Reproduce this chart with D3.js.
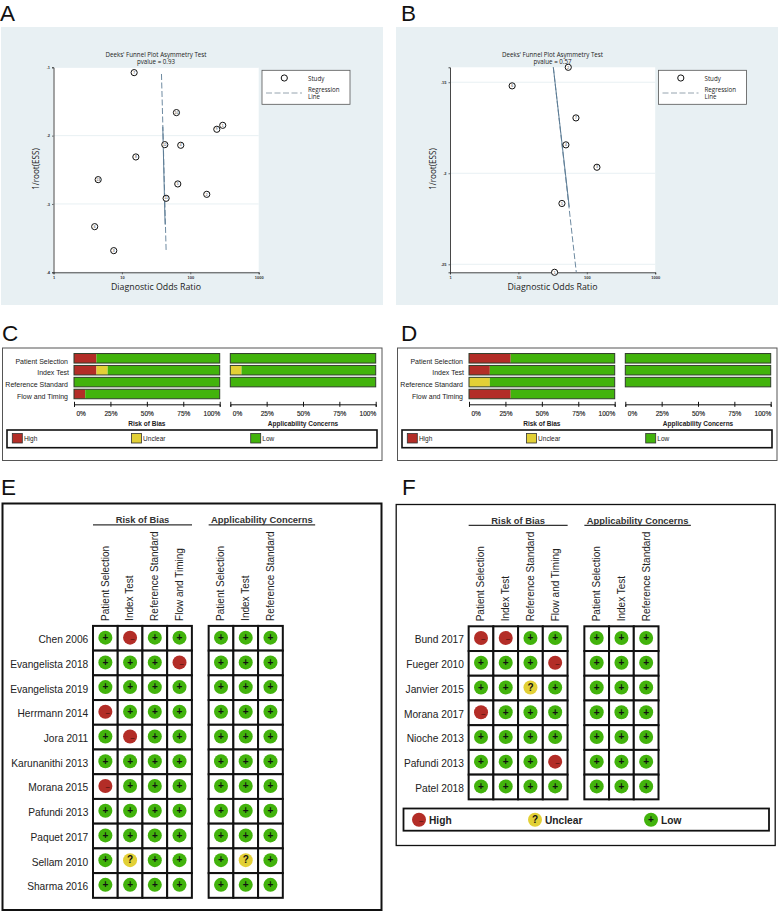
<!DOCTYPE html>
<html>
<head>
<meta charset="utf-8">
<script src="https://cdn.jsdelivr.net/npm/d3@7"></script>
<style>
html,body{margin:0;padding:0;background:#fff;}
svg{display:block;}
</style>
</head>
<body>
<svg id="main" width="778" height="912"></svg>
<script>
//funnel A
var funnelAOR=[15.1,62.7,298,244,42.4,72.5,16,4.5,65.6,174,44.3,4.0,7.6];
var funnelAESS=[.1078,.1663,.1849,.1907,.2132,.2141,.2312,.2644,.2707,.2859,.2917,.3332,.3683];
var funnelAIds=[7,10,1,9,12,4,8,13,5,2,11,6,3];
var funnelALine=[[37.9,.1098],[44.3,.3683]];
var funnelASolid=[[39.6,.187],[42.8,.33]];
var funnelAYTicks=[.1,.2,.3,.4];
var funnelAP="0.93";

//funnel B
var funnelBOR=[53.6,8.1,69.4,49.5,140.6,43.3,33.8];
var funnelBESS=[.1418,.152,.1696,.1844,.1967,.2166,.2544];
var funnelBIds=[2,6,7,4,3,5,1];
var funnelBLine=[[32.4,.1418],[70.2,.2544]];
var funnelBSolid=[[32.4,.1418],[55.4,.2185]];
var funnelBYTicks=[.15,.2,.25];
var funnelBP="0.57";

var orTicks=[1,10,100,1000];

//bars, percent of studies
var domains=["Patient Selection","Index Test","Reference Standard","Flow and Timing"];
var riskC=[[15.4,0,84.6],[15.4,7.7,76.9],[0,0,100],[7.7,0,92.3]];
var applyC=[[0,0,100],[0,7.7,92.3],[0,0,100]];
var riskD=[[28.6,0,71.4],[14.3,0,85.7],[0,14.3,85.7],[28.6,0,71.4]];
var applyD=[[0,0,100],[0,0,100],[0,0,100]];
var pctTicks=[0,25,50,75,100];
var levels=["High","Unclear","Low"];

//traffic light tables
var riskCols=["Patient Selection","Index Test","Reference Standard","Flow and Timing"];
var applyCols=["Patient Selection","Index Test","Reference Standard"];
var studiesE=["Chen 2006","Evangelista 2018","Evangelista 2019","Herrmann 2014","Jora 2011","Karunanithi 2013","Morana 2015","Pafundi 2013","Paquet 2017","Sellam 2010","Sharma 2016"];
var cellsE=["+-++|+++","+++-|+++","++++|+++","-+++|+++","+-++|+++","++++|+++","-+++|+++","++++|+++","++++|+++","+?++|+?+","++++|+++"];
var studiesF=["Bund 2017","Fueger 2010","Janvier 2015","Morana 2017","Nioche 2013","Pafundi 2013","Patel 2018"];
var cellsF=["--++|+++","+++-|+++","++?+|+++","-+++|+++","++++|+++","+++-|+++","++++|+++"];

const RED="#b32d27",YELLOW="#e2d036",GREEN="#42b30c";
const levelColor={"High":RED,"Unclear":YELLOW,"Low":GREEN};
const symColor={"+":GREEN,"-":RED,"?":YELLOW};
const ARIAL="'Liberation Sans',Arial,sans-serif";
const SOFT="'Open Sans',sans-serif";

var svg=d3.select("#main");

function letter(t,x,y){
    svg.append("text").text(t)
        .attr("x",x).attr("y",y)
        .attr("font-family",ARIAL)
        .attr("font-size",22.5)
        .attr("fill","#111");
}

function drawFunnel(dx,bgX,bgW,or,ess,ids,line,solid,yTicks,yDomain,pvalue){
    let g=svg.append("g").attr("transform","translate("+dx+",0)");
    svg.insert("rect","g").attr("x",bgX).attr("y",27).attr("width",bgW).attr("height",278).attr("fill","#e8f0f3");

    let x=d3.scaleLog().domain([1,1000]).range([53.5,258.7]);
    let y=d3.scaleLinear().domain(yDomain).range([67.3,272.3]);

    g.append("rect").attr("x",53.5).attr("y",67.3).attr("width",205.2).attr("height",205).attr("fill","#fff");

    //横向网格线
    g.append("g").selectAll("line").data(yTicks).enter().append("line")
        .attr("x1",53.5).attr("x2",258.7)
        .attr("y1",function(d){return y(d)})
        .attr("y2",function(d){return y(d)})
        .attr("stroke","#e8f0f3").attr("stroke-width",1);

    let axB=g.append("g").attr("transform","translate(0,272.3)")
        .call(d3.axisBottom(x).tickValues(orTicks).tickFormat(d3.format("d")).tickSizeOuter(0).tickSize(2).tickPadding(1.5));
    let axL=g.append("g").attr("transform","translate(53.5,0)")
        .call(d3.axisLeft(y).tickValues(yTicks).tickFormat(function(d){return String(d).replace(/^0/,"")}).tickSizeOuter(0).tickSize(1.5).tickPadding(2));
    [axB,axL].forEach(function(a){
        a.selectAll("text").attr("font-size",4).attr("font-family",ARIAL).attr("font-weight","bold").attr("fill","#333");
        a.selectAll("line").attr("stroke","#333").attr("stroke-width",.7);
        a.select(".domain").attr("stroke","#333").attr("stroke-width",.9);
    });

    let path=d3.line().x(function(d){return x(d[0])}).y(function(d){return y(d[1])});
    g.append("path").attr("d",path(line)).attr("fill","none")
        .attr("stroke","#5d7d96").attr("stroke-width",.9).attr("stroke-dasharray","6 2.5");
    g.append("path").attr("d",path(solid)).attr("fill","none")
        .attr("stroke","#5d7d96").attr("stroke-width",1);

    let pts=g.append("g").selectAll("g").data(or).enter().append("g")
        .attr("transform",function(d,i){return "translate("+x(d)+","+y(ess[i])+")"});
    pts.append("circle").attr("r",3.1).attr("fill","#fff").attr("stroke","#111").attr("stroke-width",1);
    pts.append("text").text(function(d,i){return ids[i]})
        .attr("text-anchor","middle").attr("y",1.2)
        .attr("font-size",3.4).attr("font-family",ARIAL).attr("fill","#333");

    let title=g.append("g").attr("font-family",SOFT).attr("font-size",6.2).attr("fill","#222").attr("text-anchor","middle");
    title.append("text").text("Deeks' Funnel Plot Asymmetry Test").attr("x",156).attr("y",56.6);
    title.append("text").text("pvalue =  "+pvalue).attr("x",156).attr("y",63.8);

    g.append("text").text("Diagnostic Odds Ratio")
        .attr("x",156).attr("y",290)
        .attr("text-anchor","middle")
        .attr("font-family",SOFT).attr("font-size",8.8).attr("fill","#222");
    g.append("text").text("1/root(ESS)")
        .attr("transform","translate(39,169) rotate(-90)")
        .attr("text-anchor","middle")
        .attr("font-family",SOFT).attr("font-size",8.1).attr("fill","#222");

    //图例
    let lg=g.append("g").attr("font-family",SOFT).attr("font-size",6.2).attr("fill","#222");
    lg.append("rect").attr("x",262).attr("y",70.3).attr("width",88).attr("height",34).attr("fill","#fff").attr("stroke","#555").attr("stroke-width",.8);
    lg.append("circle").attr("cx",284.3).attr("cy",78).attr("r",3.1).attr("fill","#fff").attr("stroke","#111").attr("stroke-width",1);
    lg.append("text").text("Study").attr("x",308).attr("y",80.5);
    lg.append("line").attr("x1",266).attr("x2",302).attr("y1",93).attr("y2",93).attr("stroke","#8a9aa6").attr("stroke-width",.9).attr("stroke-dasharray","6 2.5");
    lg.append("text").text("Regression").attr("x",308).attr("y",91.7);
    lg.append("text").text("Line").attr("x",308).attr("y",99);
}

function drawBars(dx,risk,apply){
    let g=svg.append("g").attr("transform","translate("+dx+",0)").attr("font-family",ARIAL).attr("fill","#222");
    g.append("rect").attr("x",2.5).attr("y",348).attr("width",379.5).attr("height",112.5).attr("fill","#fff").attr("stroke","#555").attr("stroke-width",1);

    let y=d3.scaleBand().domain(domains).range([352.35,399.95]).paddingInner(.2).paddingOuter(.1);
    let stack=d3.stack().keys([0,1,2]);

    function block(rows,x0,x1,title){
        let x=d3.scaleLinear().domain([0,100]).range([x0,x1]);
        let series=stack(rows);
        let bars=g.append("g");
        series.forEach(function(s,k){
            bars.selectAll("rect.s"+k).data(s).enter().append("rect")
                .attr("class","s"+k)
                .attr("x",function(d){return x(d[0])})
                .attr("width",function(d){return x(d[1])-x(d[0])})
                .attr("y",function(d,i){return y(domains[i])})
                .attr("height",y.bandwidth())
                .attr("fill",levelColor[levels[k]]);
        });
        bars.selectAll("rect.out").data(rows).enter().append("rect")
            .attr("class","out")
            .attr("x",x0).attr("width",x1-x0)
            .attr("y",function(d,i){return y(domains[i])})
            .attr("height",y.bandwidth())
            .attr("fill","none").attr("stroke","#2f3d2a").attr("stroke-width",1);

        let ax=g.append("g").attr("transform","translate(0,404.3)")
            .call(d3.axisBottom(x).tickValues(pctTicks).tickFormat(function(d){return d+"%"}).tickSizeOuter(0).tickSize(2.5).tickPadding(4.5));
        ax.select(".domain").attr("stroke","#111").attr("stroke-width",1);
        ax.selectAll("line").attr("y1",-2.5).attr("stroke","#111").attr("stroke-width",1);
        ax.selectAll("text").attr("font-size",6.5).attr("font-family",ARIAL).attr("fill","#222")
            .attr("stroke","#222").attr("stroke-width",.15)
            .attr("text-anchor",function(d){return d==0?"start":(d==100?"end":"middle")})
            .attr("dx",function(d){return d==0?2:0});

        g.append("text").text(title)
            .attr("x",(x0+x1)/2).attr("y",425.7)
            .attr("text-anchor","middle").attr("font-size",6.5).attr("font-weight","bold");
    }
    block(risk,74,219.7,"Risk of Bias");
    block(apply,230.3,375.7,"Applicability Concerns");

    g.append("g").selectAll("text").data(domains).enter().append("text")
        .text(function(d){return d})
        .attr("x",function(d){return d=="Index Test"?69:68}).attr("y",function(d){return y(d)+y.bandwidth()/2+5.2})
        .attr("text-anchor","end").attr("font-size",7);

    g.append("rect").attr("x",7).attr("y",430).attr("width",370).attr("height",17.7).attr("fill","#fff").attr("stroke","#111").attr("stroke-width",1.6);
    let lx=d3.scalePoint().domain(levels).range([12.3,250.7]);
    let lg=g.append("g").selectAll("g").data(levels).enter().append("g")
        .attr("transform",function(d){return "translate("+lx(d)+",433.5)"});
    lg.append("rect").attr("width",10).attr("height",9.5)
        .attr("fill",function(d){return levelColor[d]})
        .attr("stroke","#333").attr("stroke-width",.8);
    lg.append("text").text(function(d){return d}).attr("x",11.6).attr("y",7.6).attr("font-size",6.5);
}

function mark(sel,r,size){
    sel.append("circle").attr("r",r).attr("fill",function(d){return symColor[d]});
    sel.append("text")
        .text(function(d){return d=="-"?"\u2013":d})
        .attr("text-anchor","middle")
        .attr("x",function(d){return d=="-"?2.3:0})
        .attr("y",size*.33)
        .attr("font-size",function(d){return d=="-"?size*.8:size})
        .attr("font-family",ARIAL).attr("font-weight","bold")
        .attr("fill",function(d){return d=="-"?"#5e1511":"#111"});
}

function drawGrid(x0,x1,top,frameY,frameH,frameX,studies,cells){
    const STEP=24.72;
    let g=svg.append("g").attr("font-family",ARIAL).attr("fill","#222");
    g.append("rect").attr("x",frameX).attr("y",frameY).attr("width",379).attr("height",frameH).attr("fill","#fff").attr("stroke","#111").attr("stroke-width",frameH>360?2:1.3);

    let y=d3.scaleBand().domain(studies).range([top,top+STEP*studies.length]);

    function group(cols,left,offset,title,tx0,tx1){
        let x=d3.scaleBand().domain(d3.range(cols.length)).range([left,left+STEP*cols.length]);
        let rows=g.append("g").selectAll("g").data(studies).enter().append("g")
            .attr("transform",function(d){return "translate(0,"+y(d)+")"});
        let cell=rows.selectAll("g").data(function(d,i){
                return cells[i].split("|")[offset].split("");
            }).enter().append("g")
            .attr("transform",function(d,j){return "translate("+x(j)+",0)"});
        cell.append("rect").attr("width",x.bandwidth()).attr("height",y.bandwidth())
            .attr("fill","#fff").attr("stroke","#111").attr("stroke-width",2);
        let c=cell.append("g").attr("transform","translate("+x.bandwidth()/2+","+(y.bandwidth()/2-.6)+")");
        mark(c,7,10);

        g.append("g").selectAll("text").data(cols).enter().append("text")
            .text(function(d){return d})
            .attr("transform",function(d,j){return "translate("+(x(j)+x.bandwidth()/2+3.4)+","+(top-5)+") rotate(-90)"})
            .attr("font-size",10);

        g.append("text").text(title)
            .attr("x",(tx0+tx1)/2).attr("y",top-102.5)
            .attr("text-anchor","middle").attr("font-size",9.4).attr("font-weight","bold").attr("fill","#333");
        g.append("line").attr("x1",tx0).attr("x2",tx1).attr("y1",top-101).attr("y2",top-101)
            .attr("stroke","#333").attr("stroke-width",1.3);
    }
    group(riskCols,x0,0,"Risk of Bias",x0,x0+99);
    group(applyCols,x1,1,"Applicability Concerns",x1,x1+106.5);

    g.append("g").selectAll("text").data(studies).enter().append("text")
        .text(function(d){return d})
        .attr("x",x0-4.7).attr("y",function(d){return y(d)+y.bandwidth()/2+4.8})
        .attr("text-anchor","end").attr("font-size",10.2);
}

function gridLegend(){
    let g=svg.append("g").attr("font-family",ARIAL);
    g.append("rect").attr("x",403.5).attr("y",808.5).attr("width",365.5).attr("height",22.2).attr("fill","#fff").attr("stroke","#111").attr("stroke-width",1.8);
    let syms=["-","?","+"];
    let lx=d3.scalePoint().domain(syms).range([419,651]);
    let lg=g.append("g").selectAll("g").data(syms).enter().append("g")
        .attr("transform",function(d){return "translate("+lx(d)+",819.7)"});
    mark(lg,7,10);
    lg.append("text").text(function(d,i){return levels[i]})
        .attr("x",10).attr("y",4.2)
        .attr("font-size",10.2).attr("font-weight","bold").attr("fill","#222");
}

letter("A",0,20.5);
letter("B",401,20.5);
letter("C",2,341);
letter("D",401,341);
letter("E",1,495);
letter("F",402,495);

drawFunnel(0,1,382,funnelAOR,funnelAESS,funnelAIds,funnelALine,funnelASolid,funnelAYTicks,[.1,.4],funnelAP);
drawFunnel(396.5,396,382,funnelBOR,funnelBESS,funnelBIds,funnelBLine,funnelBSolid,funnelBYTicks,[.1418,.2544],funnelBP);

drawBars(0,riskC,applyC);
drawBars(395,riskD,applyD);

drawGrid(93,208.65,625.9,503.5,406.5,2.5,studiesE,cellsE);
drawGrid(468.65,584.35,626.3,504.5,341,396.2,studiesF,cellsF);
gridLegend();
</script>
</body>
</html>
